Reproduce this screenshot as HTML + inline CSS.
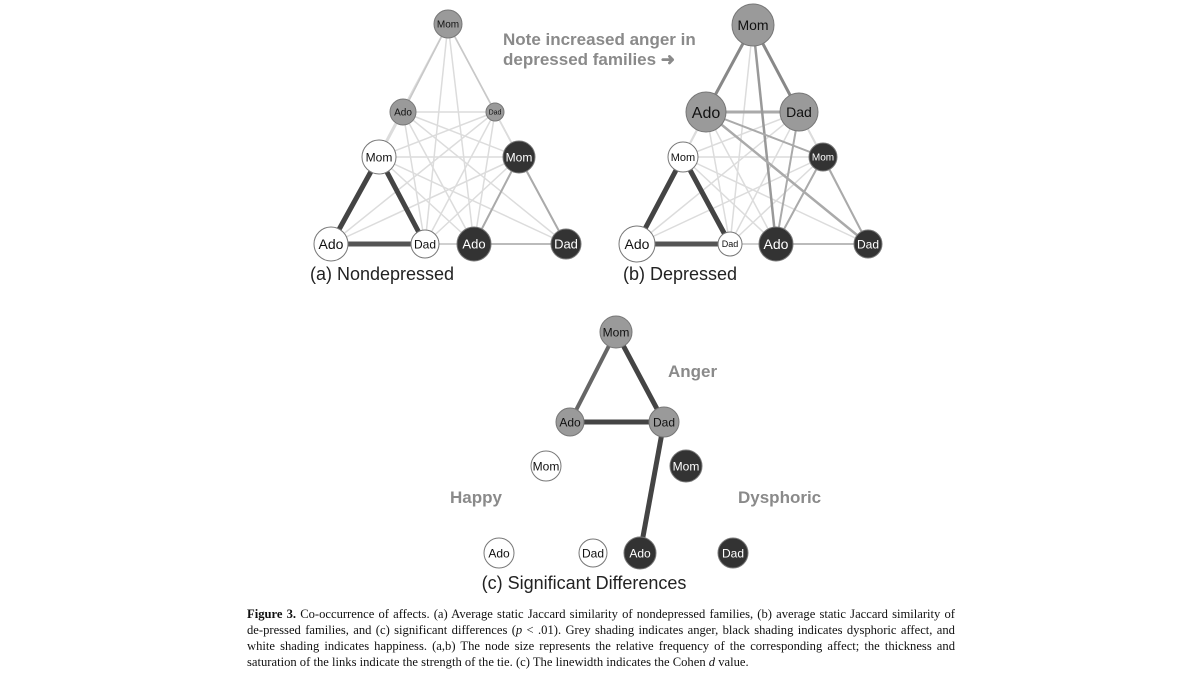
<!DOCTYPE html>
<html><head><meta charset="utf-8"><style>
html,body{margin:0;padding:0;background:#fff;}
#w{position:relative;width:1200px;height:675px;overflow:hidden;}
svg{position:absolute;left:0;top:0;}
.cap{position:absolute;left:247px;top:606px;width:708px;font-family:"Liberation Serif",serif;font-size:12.6px;line-height:16px;color:#111;text-align:justify;}
</style></head><body><div id="w">
<svg id="s" width="1200" height="675" viewBox="0 0 1200 675" font-family="Liberation Sans, sans-serif"></svg>
<div class="cap"><b>Figure 3.</b> Co-occurrence of affects. (a) Average static Jaccard similarity of nondepressed families, (b) average static Jaccard similarity of de-pressed families, and (c) significant differences (<i>p</i> &lt; .01). Grey shading indicates anger, black shading indicates dysphoric affect, and white shading indicates happiness. (a,b) The node size represents the relative frequency of the corresponding affect; the thickness and saturation of the links indicate the strength of the tie. (c) The linewidth indicates the Cohen <i>d</i> value.</div>
</div>
<script>
var s=document.getElementById('s'),h='';
var names=['Mom','Ado','Dad','Mom','Mom','Ado','Dad','Ado','Dad'];
var cls=['g','g','g','w','k','w','w','k','k'];
function panel(N,E,allLight){
 if(allLight){for(var i=0;i<9;i++)for(var j=i+1;j<9;j++)h+='<line x1="'+N[i][0]+'" y1="'+N[i][1]+'" x2="'+N[j][0]+'" y2="'+N[j][1]+'" stroke="#dcdcdc" stroke-width="1.5"/>';}
 E.forEach(function(e){var a=N[e[0]],b=N[e[1]];h+='<line x1="'+a[0]+'" y1="'+a[1]+'" x2="'+b[0]+'" y2="'+b[1]+'" stroke="'+e[2]+'" stroke-width="'+e[3]+'"/>';});
 N.forEach(function(n,i){var f=cls[i]=='g'?'#9a9a9a':cls[i]=='k'?'#333':'#fff';var t=cls[i]=='k'?'#fff':'#111';
  h+='<circle cx="'+n[0]+'" cy="'+n[1]+'" r="'+n[2]+'" fill="'+f+'" stroke="#777" stroke-width="1"/>';
  h+='<text x="'+n[0]+'" y="'+(n[1]+n[3]*0.36)+'" font-size="'+n[3]+'" fill="'+t+'" text-anchor="middle">'+names[i]+'</text>';});
}
// [x,y,r,fontsize]
var A=[[448,24,14,10],[403,112,13,10],[495,112,9,7],[379,157,17,12],[519,157,16,12],[331,244,17,14],[425,244,14,12],[474,244,17,13],[566,244,15,13]];
panel(A,[[0,1,'#c8c8c8',1.5],[0,2,'#c8c8c8',1.5],[3,5,'#444',5],[3,6,'#444',5],[5,6,'#555',5],[4,7,'#aaa',2],[4,8,'#aaa',2],[7,8,'#bbb',2],[6,7,'#ccc',1.5]],true);
var B=[[753,25,21,14],[706,112,20,16],[799,112,19,14],[683,157,15,11],[823,157,14,10],[637,244,18,14],[730,244,12,9],[776,244,17,14],[868,244,14,12]];
panel(B,[[0,1,'#888',3],[0,2,'#888',3],[1,2,'#aaa',3],[0,7,'#999',2.5],[1,8,'#aaa',2.5],[1,4,'#aaa',2],[2,7,'#aaa',2],[3,5,'#444',5],[3,6,'#444',5],[5,6,'#555',5],[4,7,'#aaa',2],[4,8,'#aaa',2],[7,8,'#bbb',2],[6,7,'#ccc',1.5]],true);
var C=[[616,332,16,12],[570,422,14,12],[664,422,15,12],[546,466,15,12],[686,466,16,12],[499,553,15,12],[593,553,14,12],[640,553,16,12],[733,553,15,12]];
panel(C,[[0,1,'#666',4],[0,2,'#444',5],[1,2,'#444',5],[2,7,'#444',5]],false);
h+='<text x="382" y="280" font-size="18" fill="#222" text-anchor="middle">(a) Nondepressed</text>';
h+='<text x="680" y="280" font-size="18" fill="#222" text-anchor="middle">(b) Depressed</text>';
h+='<text x="503" y="45" font-size="17" font-weight="bold" fill="#8a8a8a">Note increased anger in</text>';
h+='<text x="503" y="65" font-size="17" font-weight="bold" fill="#8a8a8a">depressed families ➜</text>';
h+='<text x="668" y="377" font-size="17" font-weight="bold" fill="#8a8a8a">Anger</text>';
h+='<text x="450" y="503" font-size="17" font-weight="bold" fill="#8a8a8a">Happy</text>';
h+='<text x="738" y="503" font-size="17" font-weight="bold" fill="#8a8a8a">Dysphoric</text>';
h+='<text x="584" y="589" font-size="18" fill="#222" text-anchor="middle">(c) Significant Differences</text>';
s.innerHTML=h;
</script>
</body></html>
